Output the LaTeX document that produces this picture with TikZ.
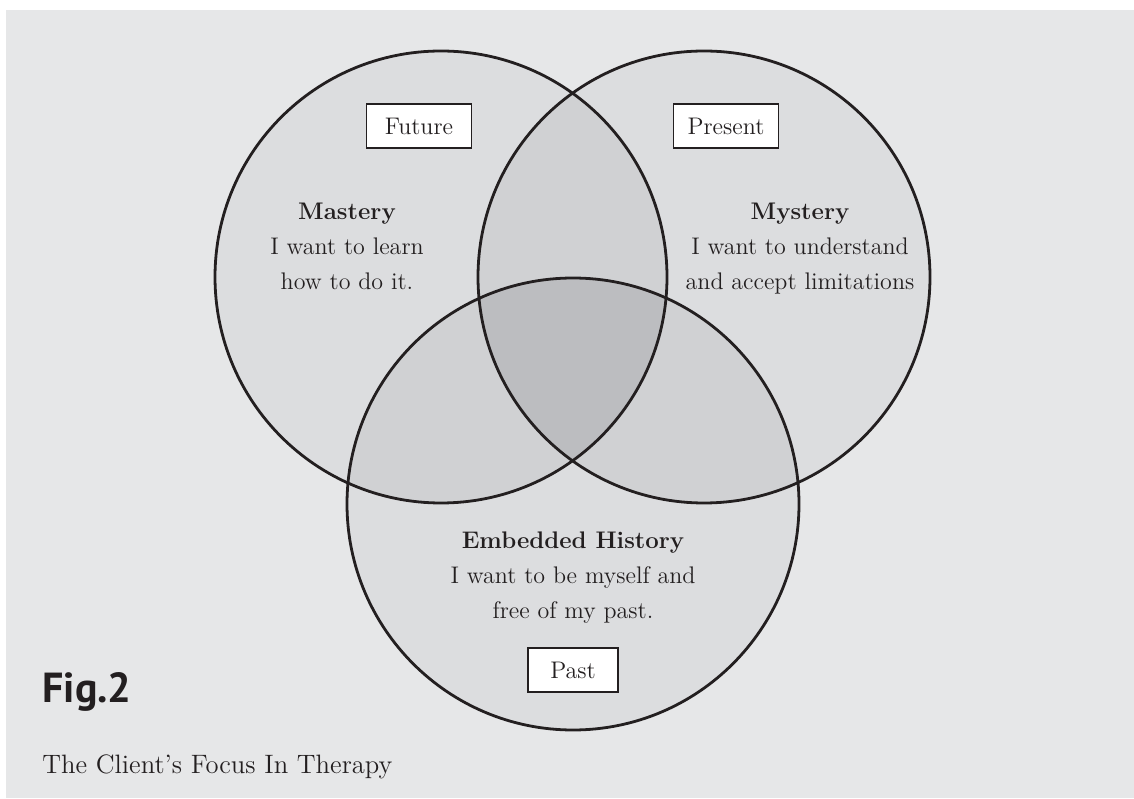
\documentclass[tikz,border=0pt]{standalone}
\usepackage{fontspec}
\newfontfamily\figfont{PT Sans}
\usetikzlibrary{positioning}
\definecolor{panelgrey}{HTML}{E6E7E8}
\definecolor{onegrey}{HTML}{DCDDDF}
\definecolor{twogrey}{HTML}{D0D1D3}
\definecolor{threegrey}{HTML}{BCBDC0}
\definecolor{inkcol}{HTML}{231F20}
\tikzset{
  ring/.style={draw=inkcol,line width=1.4pt},
  timetag/.style={draw=inkcol,fill=white,line width=0.8pt,text=inkcol,
                  minimum width=52.5pt,minimum height=22pt,inner sep=0pt,
                  font=\fontsize{12}{14}\selectfont},
  blurb/.style={align=center,text=inkcol,inner sep=0pt,anchor=north,
                font=\fontsize{12}{17.5}\selectfont},
}

\begin{document}
\begin{tikzpicture}[x=0.5pt,y=0.5pt]
  \useasboundingbox[fill=white] (0,0) rectangle (1134,798);
  \fill[panelgrey] (6,0) rectangle (1134,788);
  % circle centres
  \coordinate (cmast) at (441,521);
  \coordinate (cmyst) at (704,521);
  \coordinate (chist) at (573,294);
  \def\rad{226}
  % single, pairwise and triple overlaps
  \foreach \c in {cmast,cmyst,chist}{\fill[onegrey] (\c) circle (\rad);}
  \foreach \a/\b in {cmast/cmyst,cmast/chist,cmyst/chist}{
    \begin{scope}
      \clip (\a) circle (\rad);
      \fill[twogrey] (\b) circle (\rad);
    \end{scope}}
  \begin{scope}
    \clip (cmast) circle (\rad);
    \clip (cmyst) circle (\rad);
    \fill[threegrey] (chist) circle (\rad);
  \end{scope}
  \foreach \c in {cmast,cmyst,chist}{\draw[ring] (\c) circle (\rad);}
  % tags
  \node[timetag] (future) at (419,672) {Future};
  \node[timetag] (present) at (726,672) {Present};
  \node[timetag,minimum width=45pt] (past) at (573,128) {Past};
  % texts
  \node[blurb] (mastery) at (347,595)
    {\textbf{Mastery}\\ I want to learn\\ how to do it.};
  \node[blurb] (mystery) at (800,595)
    {\textbf{Mystery}\\ I want to understand\\ and accept limitations};
  \node[blurb] (history) at (573,267)
    {\textbf{Embedded History}\\ I want to be myself and\\ free of my past.};
  \node[anchor=base west,inner sep=0pt,text=inkcol,
        font=\figfont\bfseries\fontsize{21}{24}\selectfont] (fig) at (42,96) {Fig.2};
  \node[anchor=base west,inner sep=0pt,text=inkcol,
        font=\fontsize{13.3}{16}\selectfont] (caption) at (42,25)
    {The Client’s Focus In Therapy};
\end{tikzpicture}
\end{document}
